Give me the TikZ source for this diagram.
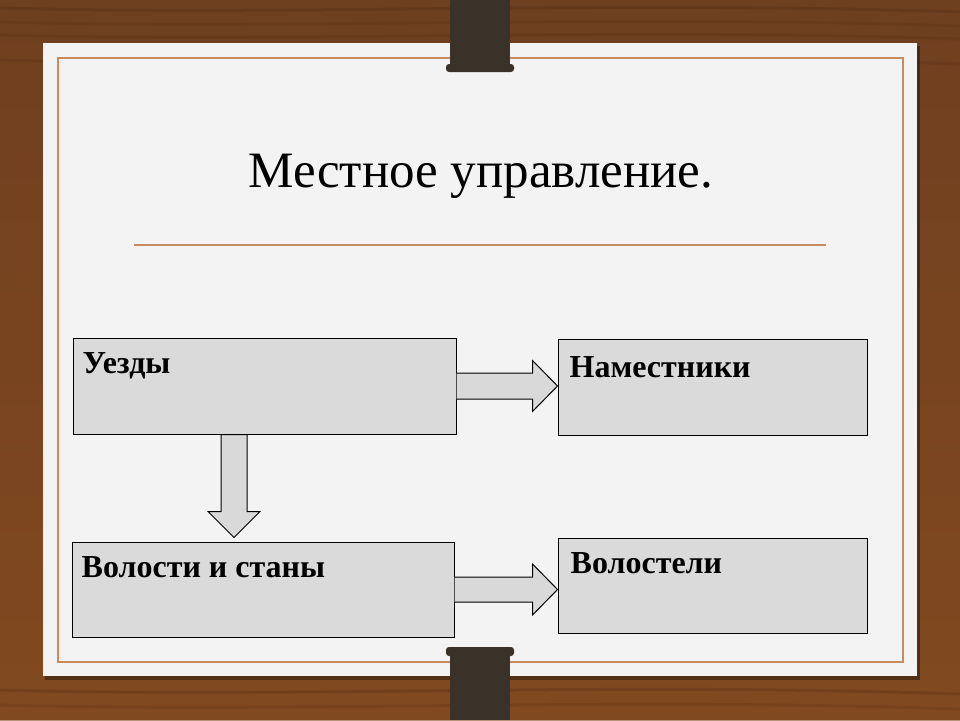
\documentclass[tikz,border=0pt]{standalone}
\usepackage{fontspec}
\setmainfont{Liberation Serif}
\usetikzlibrary{calc}
\definecolor{wood}{HTML}{7A4622}
\definecolor{wooddark}{HTML}{5A3216}
\definecolor{paper}{HTML}{F3F3F3}
\definecolor{frameor}{HTML}{C98A5E}
\definecolor{boxfill}{HTML}{DADADA}
\definecolor{arrowfill}{HTML}{D9D9D9}
\definecolor{clipc}{HTML}{3A3129}
\tikzset{
  infobox/.style={draw=black, line width=1pt, fill=boxfill, rectangle, inner sep=0pt},
  boxtext/.style={anchor=north west, inner sep=0pt, font=\fontsize{32}{36}\selectfont\bfseries},
  blockarrow/.style={draw=black, line width=1pt, fill=arrowfill, line join=miter}
}
\begin{document}
\begin{tikzpicture}[x=1pt,y=-1pt]
\useasboundingbox (0,0) rectangle (960,720);
% wood background
\fill[wood] (0,0) rectangle (960,720);
\shade[top color=wood!85!black, bottom color=wood!90!orange, opacity=0.6] (0,0) rectangle (960,720);
\foreach \yy/\a in {8/0.5,22/0.3,35/0.4,60/0.3,690/0.4,705/0.3}{
  \draw[wooddark, line width=3pt, opacity=\a] (0,\yy) .. controls (300,\yy+8) and (600,\yy-8) .. (960,\yy+4);
}
% paper
\fill[black, opacity=0.35] (45,46) rectangle (920,680);
\fill[paper] (43,43) rectangle (917,676);
\draw[frameor, line width=2pt] (57.5,57.5) rectangle (903,662);
% clips
\fill[clipc] (450,0) rectangle (510,68);
\fill[clipc, rounded corners=3pt] (446,64) rectangle (514,72);
\fill[clipc] (450,652) rectangle (510,720);
\fill[clipc, rounded corners=3pt] (446,647) rectangle (514,656);
% title
\node[font=\fontsize{51}{56}\selectfont, inner sep=0pt, anchor=base] (title) at (481,187) {Местное управление.};
\draw[frameor, line width=1.5pt] (134,245) -- (826,245);
% boxes
\node[infobox, minimum width=383pt, minimum height=96pt] (uezdy) at (264.5,386) {};
\node[infobox, minimum width=309pt, minimum height=96pt] (namest) at (712.5,387) {};
\node[infobox, minimum width=382pt, minimum height=95pt] (volosti) at (263,589.5) {};
\node[infobox, minimum width=309pt, minimum height=95pt] (volosteli) at (712.5,585.5) {};
\node[boxtext] (t1) at ($(uezdy.north west)+(10,15)$) {Уезды};
\node[boxtext] (t2) at ($(namest.north west)+(12,18)$) {Наместники};
\node[boxtext] (t3) at ($(volosti.north west)+(10,15)$) {Волости и станы};
\node[boxtext] (t4) at ($(volosteli.north west)+(13,15)$) {Волостели};
% arrows
\coordinate (a1tip) at (namest.west |- uezdy.east);
\path[blockarrow] ($(uezdy.east)+(0,-13)$) -- ($(a1tip)+(-25,-13)$) -- ($(a1tip)+(-25,-25.5)$) -- (a1tip)
  -- ($(a1tip)+(-25,25.5)$) -- ($(a1tip)+(-25,13)$) -- ($(uezdy.east)+(0,13)$);
\coordinate (a2top) at (234,0 |- uezdy.south);
\coordinate (a2tip) at ($(a2top |- volosti.north)+(0,-4)$);
\path[blockarrow] ($(a2top)+(-13,0)$) -- ($(a2tip)+(-13,-26)$) -- ($(a2tip)+(-26,-26)$) -- (a2tip)
  -- ($(a2tip)+(26,-26)$) -- ($(a2tip)+(13,-26)$) -- ($(a2top)+(13,0)$) -- cycle;
\coordinate (a3tip) at (volosteli.west |- volosti.east);
\path[blockarrow] ($(volosti.east)+(0,-12.5)$) -- ($(a3tip)+(-25,-12.5)$) -- ($(a3tip)+(-25,-25.5)$) -- (a3tip)
  -- ($(a3tip)+(-25,25.5)$) -- ($(a3tip)+(-25,12.5)$) -- ($(volosti.east)+(0,12.5)$);
\end{tikzpicture}
\end{document}
